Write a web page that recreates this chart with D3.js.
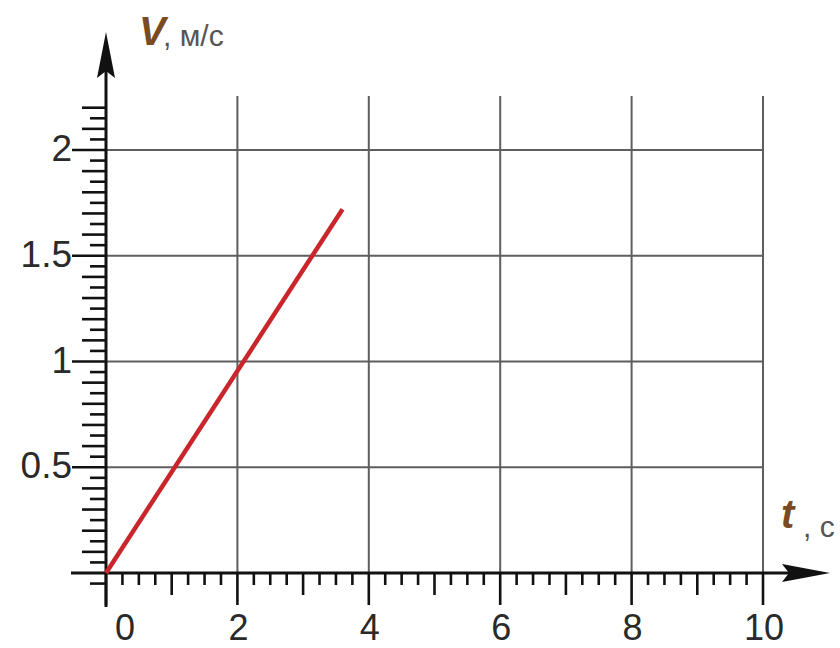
<!DOCTYPE html>
<html>
<head>
<meta charset="utf-8">
<script src="https://cdn.jsdelivr.net/npm/d3@7"></script>
<style>
  html, body { margin: 0; padding: 0; background: #ffffff; }
  svg { display: block; }
</style>
</head>
<body>
<svg id="chart" width="840" height="648"></svg>
<script>
// ---- data ----
const lineT = [0, 3.6];          // time, s
const lineV = [0, 1.72];         // speed, m/s
const xTickValues = [0, 2, 4, 6, 8, 10];
const xTickLabels = ["0", "2", "4", "6", "8", "10"];
const yTickValues = [0.5, 1, 1.5, 2];
const yTickLabels = ["0.5", "1", "1.5", "2"];
const xAxisTitle = ["t", ", с"];
const yAxisTitle = ["V", ", м/с"];

// ---- layout ----
const svg = d3.select("#chart");
const x = d3.scaleLinear().domain([0, 10]).range([106, 763]);
const y = d3.scaleLinear().domain([0, 2]).range([573, 150]);

const gridTop = y(2.255);
const gridColor = "#5e5e5e";

// grid lines
const grid = svg.append("g");
grid.selectAll("line.v").data(xTickValues.filter(d => d > 0)).enter().append("line")
  .attr("x1", d => x(d)).attr("x2", d => x(d))
  .attr("y1", gridTop).attr("y2", y(0))
  .attr("stroke", gridColor).attr("stroke-width", 2);
grid.selectAll("line.h").data(yTickValues).enter().append("line")
  .attr("x1", x(0)).attr("x2", x(10))
  .attr("y1", d => y(d)).attr("y2", d => y(d))
  .attr("stroke", gridColor).attr("stroke-width", 2);

// y minor ticks (every 0.05, from -0.05 up to 2.2)
const yTicks = d3.range(-1, 45).map(i => i * 0.05);
svg.append("g").selectAll("line").data(yTicks).enter().append("line")
  .attr("x1", d => {
    const k = Math.round(d / 0.05);
    if (k === 0) return x(0);
    if (k % 10 === 0) return x(0) - 34;
    if (k % 2 === 0) return x(0) - 24;
    return x(0) - 16;
  })
  .attr("x2", x(0))
  .attr("y1", d => y(d)).attr("y2", d => y(d))
  .attr("stroke", "#111").attr("stroke-width", 2.6);

// x ticks (every 0.25)
const xTicks = d3.range(0, 41).map(i => i * 0.25);
svg.append("g").selectAll("line").data(xTicks).enter().append("line")
  .attr("x1", d => x(d)).attr("x2", d => x(d))
  .attr("y1", y(0))
  .attr("y2", d => {
    const k = Math.round(d / 0.25);
    if (k % 8 === 0) return y(0) + 32;
    if (k % 4 === 0) return y(0) + 22;
    return y(0) + 12;
  })
  .attr("stroke", "#111").attr("stroke-width", 2.6);

// axes
svg.append("line").attr("x1", x(0)).attr("x2", x(0))
  .attr("y1", 607).attr("y2", 60)
  .attr("stroke", "#111").attr("stroke-width", 3);
svg.append("line").attr("x1", 71).attr("x2", 800)
  .attr("y1", y(0)).attr("y2", y(0))
  .attr("stroke", "#111").attr("stroke-width", 3);

// arrowheads
const ax = x(0), ay = y(0);
svg.append("path")
  .attr("d", `M${ax},32 L${ax + 9},78 L${ax},71 L${ax - 9},78 Z`)
  .attr("fill", "#111");
svg.append("path")
  .attr("d", `M830,${ay} L782,${ay - 9} L789,${ay} L782,${ay + 9} Z`)
  .attr("fill", "#111");

// data line
const pts = lineT.map((t, i) => [t, lineV[i]]);
svg.append("path")
  .datum(pts)
  .attr("d", d3.line().x(d => x(d[0])).y(d => y(d[1])))
  .attr("fill", "none")
  .attr("stroke", "#c9262c")
  .attr("stroke-width", 4.5);

// tick labels
const font = "'Liberation Sans', Arial, sans-serif";
svg.append("g").selectAll("text").data(xTickValues).enter().append("text")
  .attr("x", (d, i) => x(d) + (i === 0 ? 19 : 1))
  .attr("y", 640)
  .attr("text-anchor", "middle")
  .attr("font-family", font).attr("font-size", 36)
  .attr("fill", "#2a2a2a")
  .text((d, i) => xTickLabels[i]);
svg.append("g").selectAll("text").data(yTickValues).enter().append("text")
  .attr("x", 72)
  .attr("y", d => y(d) + 11)
  .attr("text-anchor", "end")
  .attr("font-family", font).attr("font-size", 37)
  .attr("fill", "#2a2a2a")
  .text((d, i) => yTickLabels[i]);

// axis titles
const brown = "#7a4a20";
svg.append("text").attr("x", 139).attr("y", 45)
  .attr("font-family", font).attr("font-size", 40)
  .attr("font-weight", "bold").attr("font-style", "italic")
  .attr("fill", brown).text(yAxisTitle[0]);
svg.append("text").attr("x", 163).attr("y", 46)
  .attr("font-family", font).attr("font-size", 30)
  .attr("fill", "#555").attr("xml:space", "preserve").text(yAxisTitle[1]);

svg.append("text").attr("x", 781).attr("y", 528)
  .attr("font-family", font).attr("font-size", 40)
  .attr("font-weight", "bold").attr("font-style", "italic")
  .attr("fill", brown).text(xAxisTitle[0]);
svg.append("text").attr("x", 803).attr("y", 537)
  .attr("font-family", font).attr("font-size", 30)
  .attr("fill", "#555").attr("xml:space", "preserve").text(xAxisTitle[1]);
</script>
</body>
</html>
